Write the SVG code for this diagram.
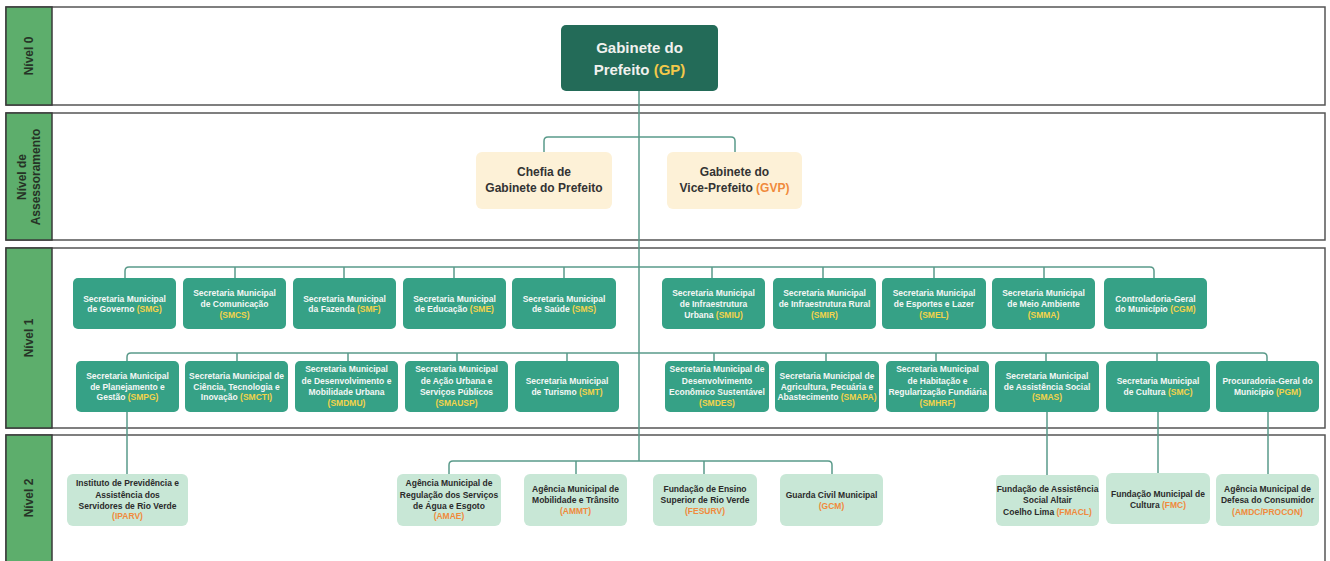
<svg xmlns="http://www.w3.org/2000/svg" width="1330" height="561" viewBox="0 0 1330 561">
<style>
.lane{fill:#fff;stroke:#555;stroke-width:1.5}
.lab{fill:#5dae6c;stroke:#3a3a3a;stroke-width:1.5}
.labt{font-family:"Liberation Sans",Arial,sans-serif;font-weight:bold;font-size:12px;fill:#263326;text-anchor:middle}
.gp{fill:#236b58}
.gpt{font-family:"Liberation Sans",Arial,sans-serif;font-weight:bold;font-size:15px;fill:#f1f1ee;text-anchor:middle}
.as{fill:#fdf1d7}
.ast{font-family:"Liberation Sans",Arial,sans-serif;font-weight:bold;font-size:12px;fill:#333;text-anchor:middle}
.n1{fill:#36a186}
.n1t{font-family:"Liberation Sans",Arial,sans-serif;font-weight:bold;font-size:8.5px;fill:#f4f7f5;text-anchor:middle}
.n2{fill:#c8e7d6}
.n2t{font-family:"Liberation Sans",Arial,sans-serif;font-weight:bold;font-size:8.5px;fill:#2b2b2b;text-anchor:middle}
.y{fill:#f3d34a}
.o{fill:#f08a3c}
.c{fill:none;stroke:#5a9a8a;stroke-width:1.5}
</style>

<g id="lanes">
<rect class="lane" x="6" y="7" width="1319" height="98"/>
<rect class="lab" x="6" y="7" width="46" height="98"/>
<text class="labt" transform="translate(33,56) rotate(-90)">Nível 0</text>
<rect class="lane" x="6" y="113" width="1319" height="127"/>
<rect class="lab" x="6" y="113" width="46" height="127"/>
<text class="labt" transform="translate(26,177) rotate(-90)">Nível de</text>
<text class="labt" transform="translate(40,177) rotate(-90)">Assessoramento</text>
<rect class="lane" x="6" y="248" width="1319" height="180"/>
<rect class="lab" x="6" y="248" width="46" height="180"/>
<text class="labt" transform="translate(33,338) rotate(-90)">Nível 1</text>
<rect class="lane" x="6" y="435" width="1319" height="140"/>
<rect class="lab" x="6" y="435" width="46" height="140"/>
<text class="labt" transform="translate(33,498) rotate(-90)">Nível 2</text>
</g>

<g id="connectors">
<path class="c" d="M639,91 V461"/>
<path class="c" d="M544,152 V141 Q544,137 548,137 H731 Q735,137 735,141 V152"/>
<path class="c" d="M125,278 V271 Q125,267 129,267 H1150 Q1154,267 1154,271 V278"/>
<path class="c" d="M235,267 V278 M344,267 V278 M454,267 V278 M564,267 V278 M712,267 V278 M823,267 V278 M934,267 V278 M1044,267 V278"/>
<path class="c" d="M127,361 V357 Q127,353 131,353 H1263 Q1267,353 1267,357 V361"/>
<path class="c" d="M237,353 V361 M348,353 V361 M457,353 V361 M567,353 V361 M714,353 V361 M826,353 V361 M936,353 V361 M1046,353 V361 M1157,353 V361"/>
<path class="c" d="M449,474 V465 Q449,461 453,461 H828 Q832,461 832,465 V474"/>
<path class="c" d="M576,461 V474 M704,461 V474"/>
<path class="c" d="M127,412 V474 M1047,412 V475 M1158,412 V473 M1268,412 V474"/>
</g>

<g id="GP">
<rect class="gp" x="561" y="25" width="157" height="66" rx="5"/>
<text class="gpt" x="639.5" y="53">Gabinete do</text>
<text class="gpt" x="639.5" y="75">Prefeito <tspan fill="#f3c94a">(GP)</tspan></text>
</g>
<g id="CGP">
<rect class="as" x="476" y="152" width="136" height="57" rx="6"/>
<text class="ast" x="544" y="176">Chefia de</text>
<text class="ast" x="544" y="192">Gabinete do Prefeito</text>
</g>
<g id="GVP">
<rect class="as" x="667" y="152" width="135" height="57" rx="6"/>
<text class="ast" x="734.5" y="176">Gabinete do</text>
<text class="ast" x="734.5" y="192">Vice-Prefeito <tspan class="o">(GVP)</tspan></text>
</g>

<!-- Nivel 1 row 1 -->
<g id="SMG"><rect class="n1" x="73" y="278" width="103" height="51" rx="5"/>
<text class="n1t" x="124.5" y="301.5">Secretaria Municipal</text><text class="n1t" x="124.5" y="312">de Governo <tspan class="y">(SMG)</tspan></text></g>
<g id="SMCS"><rect class="n1" x="183" y="278" width="103" height="51" rx="5"/>
<text class="n1t" x="234.5" y="296">Secretaria Municipal</text><text class="n1t" x="234.5" y="306.5">de Comunicação</text><text class="n1t y" x="234.5" y="318">(SMCS)</text></g>
<g id="SMF"><rect class="n1" x="293" y="278" width="103" height="51" rx="5"/>
<text class="n1t" x="344.5" y="301.5">Secretaria Municipal</text><text class="n1t" x="344.5" y="312">da Fazenda <tspan class="y">(SMF)</tspan></text></g>
<g id="SME"><rect class="n1" x="403" y="278" width="103" height="51" rx="5"/>
<text class="n1t" x="454.5" y="301.5">Secretaria Municipal</text><text class="n1t" x="454.5" y="312">de Educação <tspan class="y">(SME)</tspan></text></g>
<g id="SMS"><rect class="n1" x="512" y="278" width="104" height="51" rx="5"/>
<text class="n1t" x="564" y="301.5">Secretaria Municipal</text><text class="n1t" x="564" y="312">de Saúde <tspan class="y">(SMS)</tspan></text></g>
<g id="SMIU"><rect class="n1" x="662" y="278" width="103" height="51" rx="5"/>
<text class="n1t" x="713.5" y="296">Secretaria Municipal</text><text class="n1t" x="713.5" y="306.5">de Infraestrutura</text><text class="n1t" x="713.5" y="318">Urbana <tspan class="y">(SMIU)</tspan></text></g>
<g id="SMIR"><rect class="n1" x="773" y="278" width="103" height="51" rx="5"/>
<text class="n1t" x="824.5" y="296">Secretaria Municipal</text><text class="n1t" x="824.5" y="306.5">de Infraestrutura Rural</text><text class="n1t y" x="824.5" y="318">(SMIR)</text></g>
<g id="SMEL"><rect class="n1" x="882" y="278" width="104" height="51" rx="5"/>
<text class="n1t" x="934" y="296">Secretaria Municipal</text><text class="n1t" x="934" y="306.5">de Esportes e Lazer</text><text class="n1t y" x="934" y="318">(SMEL)</text></g>
<g id="SMMA"><rect class="n1" x="992" y="278" width="103" height="51" rx="5"/>
<text class="n1t" x="1043.5" y="296">Secretaria Municipal</text><text class="n1t" x="1043.5" y="306.5">de Meio Ambiente</text><text class="n1t y" x="1043.5" y="318">(SMMA)</text></g>
<g id="CGM"><rect class="n1" x="1104" y="278" width="103" height="51" rx="5"/>
<text class="n1t" x="1155.5" y="301.5">Controladoria-Geral</text><text class="n1t" x="1155.5" y="312">do Município <tspan class="y">(CGM)</tspan></text></g>

<!-- Nivel 1 row 2 -->
<g id="SMPG"><rect class="n1" x="76" y="361" width="103" height="51" rx="5"/>
<text class="n1t" x="127.5" y="379">Secretaria Municipal</text><text class="n1t" x="127.5" y="389.5">de Planejamento e</text><text class="n1t" x="127.5" y="400">Gestão <tspan class="y">(SMPG)</tspan></text></g>
<g id="SMCTI"><rect class="n1" x="185" y="361" width="103" height="51" rx="5"/>
<text class="n1t" x="236.5" y="379">Secretaria Municipal de</text><text class="n1t" x="236.5" y="389.5">Ciência, Tecnologia e</text><text class="n1t" x="236.5" y="400">Inovação <tspan class="y">(SMCTI)</tspan></text></g>
<g id="SMDMU"><rect class="n1" x="295" y="361" width="103" height="51" rx="5"/>
<text class="n1t" x="346.5" y="372">Secretaria Municipal</text><text class="n1t" x="346.5" y="383.5">de Desenvolvimento e</text><text class="n1t" x="346.5" y="395">Mobilidade Urbana</text><text class="n1t y" x="346.5" y="406">(SMDMU)</text></g>
<g id="SMAUSP"><rect class="n1" x="405" y="361" width="103" height="51" rx="5"/>
<text class="n1t" x="456.5" y="372">Secretaria Municipal</text><text class="n1t" x="456.5" y="383.5">de Ação Urbana e</text><text class="n1t" x="456.5" y="395">Serviços Públicos</text><text class="n1t y" x="456.5" y="406">(SMAUSP)</text></g>
<g id="SMT"><rect class="n1" x="515" y="361" width="104" height="51" rx="5"/>
<text class="n1t" x="567" y="384">Secretaria Municipal</text><text class="n1t" x="567" y="395">de Turismo <tspan class="y">(SMT)</tspan></text></g>
<g id="SMDES"><rect class="n1" x="665" y="361" width="104" height="51" rx="5"/>
<text class="n1t" x="717" y="372">Secretaria Municipal de</text><text class="n1t" x="717" y="383.5">Desenvolvimento</text><text class="n1t" x="717" y="395">Econômico Sustentável</text><text class="n1t y" x="717" y="406">(SMDES)</text></g>
<g id="SMAPA"><rect class="n1" x="775" y="361" width="104" height="51" rx="5"/>
<text class="n1t" x="827" y="379">Secretaria Municipal de</text><text class="n1t" x="827" y="389.5">Agricultura, Pecuária e</text><text class="n1t" x="827" y="400">Abastecimento <tspan class="y">(SMAPA)</tspan></text></g>
<g id="SMHRF"><rect class="n1" x="886" y="361" width="103" height="51" rx="5"/>
<text class="n1t" x="937.5" y="372">Secretaria Municipal</text><text class="n1t" x="937.5" y="383.5">de Habitação e</text><text class="n1t" x="937.5" y="395">Regularização Fundiária</text><text class="n1t y" x="937.5" y="406">(SMHRF)</text></g>
<g id="SMAS"><rect class="n1" x="995" y="361" width="104" height="51" rx="5"/>
<text class="n1t" x="1047" y="379">Secretaria Municipal</text><text class="n1t" x="1047" y="389.5">de Assistência Social</text><text class="n1t y" x="1047" y="400">(SMAS)</text></g>
<g id="SMC"><rect class="n1" x="1106" y="361" width="104" height="51" rx="5"/>
<text class="n1t" x="1158" y="384">Secretaria Municipal</text><text class="n1t" x="1158" y="395">de Cultura <tspan class="y">(SMC)</tspan></text></g>
<g id="PGM"><rect class="n1" x="1216" y="361" width="103" height="51" rx="5"/>
<text class="n1t" x="1267.5" y="384">Procuradoria-Geral do</text><text class="n1t" x="1267.5" y="395">Município <tspan class="y">(PGM)</tspan></text></g>

<!-- Nivel 2 -->
<g id="IPARV"><rect class="n2" x="67" y="474" width="121" height="52" rx="6"/>
<text class="n2t" x="127.5" y="486">Instituto de Previdência e</text><text class="n2t" x="127.5" y="497.5">Assistência dos</text><text class="n2t" x="127.5" y="508.5">Servidores de Rio Verde</text><text class="n2t o" x="127.5" y="519">(IPARV)</text></g>
<g id="AMAE"><rect class="n2" x="397" y="474" width="104" height="52" rx="6"/>
<text class="n2t" x="449" y="486">Agência Municipal de</text><text class="n2t" x="449" y="497.5">Regulação dos Serviços</text><text class="n2t" x="449" y="508.5">de Água e Esgoto</text><text class="n2t o" x="449" y="519">(AMAE)</text></g>
<g id="AMMT"><rect class="n2" x="524" y="474" width="103" height="52" rx="6"/>
<text class="n2t" x="575.5" y="491.5">Agência Municipal de</text><text class="n2t" x="575.5" y="502.5">Mobilidade e Trânsito</text><text class="n2t o" x="575.5" y="514">(AMMT)</text></g>
<g id="FESURV"><rect class="n2" x="653" y="474" width="104" height="52" rx="6"/>
<text class="n2t" x="705" y="491.5">Fundação de Ensino</text><text class="n2t" x="705" y="502.5">Superior de Rio Verde</text><text class="n2t o" x="705" y="514">(FESURV)</text></g>
<g id="GCM"><rect class="n2" x="780" y="474" width="103" height="52" rx="6"/>
<text class="n2t" x="831.5" y="498">Guarda Civil Municipal</text><text class="n2t o" x="831.5" y="509">(GCM)</text></g>
<g id="FMACL"><rect class="n2" x="996" y="475" width="103" height="51" rx="6"/>
<text class="n2t" x="1047.5" y="492">Fundação de Assistência</text><text class="n2t" x="1047.5" y="503">Social Altair</text><text class="n2t" x="1047.5" y="515">Coelho Lima <tspan class="o">(FMACL)</tspan></text></g>
<g id="FMC"><rect class="n2" x="1106" y="473" width="104" height="51" rx="6"/>
<text class="n2t" x="1158" y="497">Fundação Municipal de</text><text class="n2t" x="1158" y="508">Cultura <tspan class="o">(FMC)</tspan></text></g>
<g id="AMDC"><rect class="n2" x="1216" y="474" width="103" height="52" rx="6"/>
<text class="n2t" x="1267.5" y="492">Agência Municipal de</text><text class="n2t" x="1267.5" y="503">Defesa do Consumidor</text><text class="n2t o" x="1267.5" y="515">(AMDC/PROCON)</text></g>
</svg>
